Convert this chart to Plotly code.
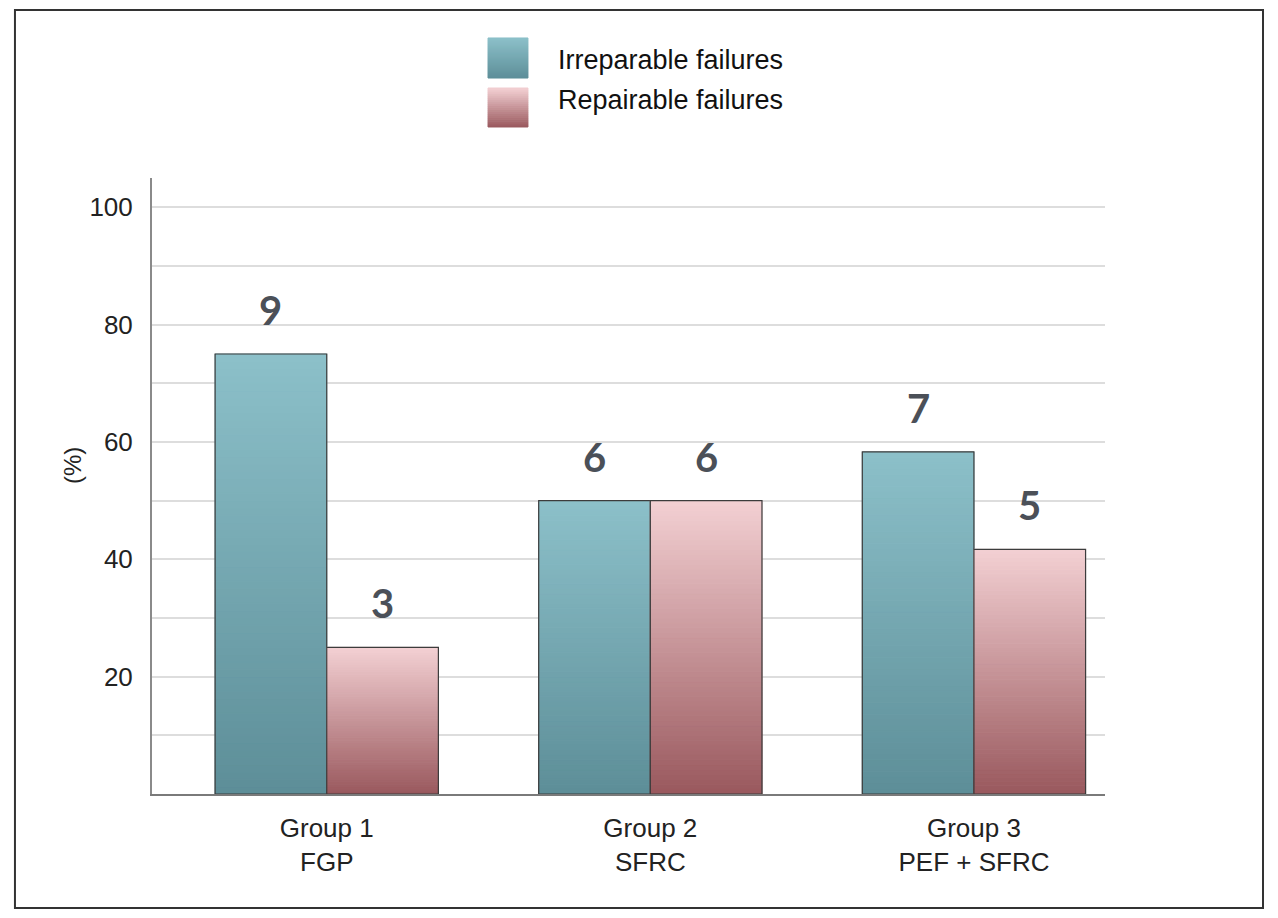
import plotly.graph_objects as go

# data
groups = ['Group 1<br>FGP', 'Group 2<br>SFRC', 'Group 3<br>PEF + SFRC']
irreparable_pct = [75.0, 50.0, 58.3]
repairable_pct = [25.0, 50.0, 41.7]
irreparable_n = [9, 6, 7]
repairable_n = [3, 6, 5]
series_names = ['Irreparable failures', 'Repairable failures']
y_ticks = [20, 40, 60, 80, 100]

# gradient ends (top, bottom)
teal = ((140, 192, 201), (93, 142, 152))
pink = ((243, 208, 211), (153, 88, 93))

N = 60
bargap = 0.31
bar_w = (1 - bargap) / 2


def mix(c, t):
    top, bot = c
    return 'rgb(%d,%d,%d)' % tuple(round(bot[k] + (top[k] - bot[k]) * t) for k in range(3))


fig = go.Figure()

for name, vals, grad, grp in [(series_names[0], irreparable_pct, teal, 'a'),
                              (series_names[1], repairable_pct, pink, 'b')]:
    # stacked slices to fake a vertical gradient inside each bar
    for i in range(N):
        col = mix(grad, (i + 0.5) / N)
        fig.add_trace(go.Bar(
            x=groups, y=[v / N for v in vals], base=[v * i / N for v in vals],
            offsetgroup=grp, marker=dict(color=col, line=dict(color=col, width=1)),
            showlegend=False, hoverinfo='skip'))
    # outline
    fig.add_trace(go.Bar(
        x=groups, y=vals, name=name, offsetgroup=grp,
        marker=dict(color='rgba(0,0,0,0)', line=dict(color='#3c3c3c', width=1.2)),
        showlegend=False))

# count labels above bars
for i in range(len(groups)):
    for vals, cnt, side in [(irreparable_pct, irreparable_n, -1), (repairable_pct, repairable_n, 1)]:
        fig.add_annotation(x=i + side * bar_w / 2, y=vals[i], text=str(cnt[i]),
                           showarrow=False, yanchor='middle', yshift=44,
                           font=dict(family='Lato', size=40, color='#4b5058', weight='bold'))

# y title
fig.add_annotation(x=-0.084, y=0.534, xref='paper', yref='paper', text='(%)', textangle=-90,
                   xanchor='center', yanchor='middle', showarrow=False,
                   font=dict(family='Liberation Sans', size=24, color='#222'))

# custom legend
shapes = []
for (y0, y1), grad in [((1.1623, 1.2273), teal), ((1.0828, 1.1461), pink)]:
    steps = 20
    for k in range(steps):
        col = mix(grad, (k + 0.5) / steps)
        shapes.append(dict(type='rect', xref='paper', yref='paper', x0=0.3526, x1=0.3945,
                           y0=y0 + (y1 - y0) * k / steps, y1=y0 + (y1 - y0) * (k + 1) / steps,
                           fillcolor=col, line=dict(color=col, width=1), layer='above'))
for y, txt in [(1.1916, series_names[0]), (1.1266, series_names[1])]:
    fig.add_annotation(x=0.4239, y=y, xref='paper', yref='paper', text=txt, showarrow=False,
                       xanchor='left', yanchor='middle',
                       font=dict(family='Liberation Sans', size=27, color='#111'))

# outer frame
shapes.append(dict(type='rect', xref='paper', yref='paper', x0=-0.1438, x1=1.1658,
                   y0=-0.185, y1=1.2727, line=dict(color='#333', width=2), layer='above'))

# page has an 8px body margin, so the figure is a bit smaller and shifted
fig.update_layout(
    width=1262, height=902,
    margin=dict(l=144, r=165, t=170, b=116),
    paper_bgcolor='white', plot_bgcolor='white',
    barmode='group', bargap=bargap, bargroupgap=0,
    shapes=shapes,
    font=dict(family='Liberation Sans', color='#222'),
    xaxis=dict(range=[-0.54, 2.405], showgrid=False, showline=True, linecolor='#7a7a7a',
               linewidth=2, ticks='', tickfont=dict(size=26, color='#222'), ticklabelstandoff=10),
    yaxis=dict(range=[0, 105], tickvals=y_ticks, showline=True, linecolor='#8a8a8a', linewidth=2,
               gridcolor='#dddddd', gridwidth=1.5, zeroline=False, ticks='',
               tickfont=dict(size=26, color='#222'), ticklabelstandoff=12,
               minor=dict(dtick=10, showgrid=True, gridcolor='#dddddd', gridwidth=1.5)),
)

fig.write_html('out.html')
